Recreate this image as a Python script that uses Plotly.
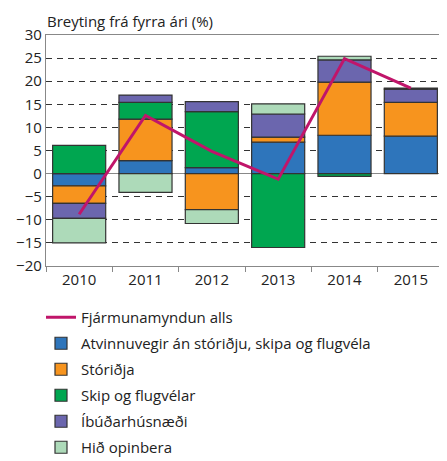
import plotly.graph_objects as go

years = ["2010", "2011", "2012", "2013", "2014", "2015"]
total = [-8.8, 12.6, 4.8, -1.2, 24.9, 18.5]
atvinnuvegir = [-2.65, 2.8, 1.3, 6.8, 8.3, 8.1]
storidja = [-3.8, 9.0, -7.8, 1.1, 11.5, 7.3]
skip = [6.1, 3.6, 12.1, -16.0, -0.6, 0.0]
ibudar = [-3.25, 1.6, 2.2, 5.0, 4.8, 2.9]
opinbera = [-5.3, -4.06, -3.0, 2.2, 0.8, 0.2]

names = ["Atvinnuvegir án stóriðju, skipa og flugvéla", "Stóriðja",
         "Skip og flugvélar", "Íbúðarhúsnæði", "Hið opinbera"]
series = [atvinnuvegir, storidja, skip, ibudar, opinbera]
colors = ["#2E75BB", "#F7941E", "#00A650", "#6B66AE", "#ADDAB9"]

FONT = "Open Sans"
W, H = 439, 453          # page body adds an 8px offset
ML, MR, MT, MB = 38, 3, 27, 195
PH = H - MT - MB
PW = W - ML - MR

fig = go.Figure()
fig.add_trace(go.Scatter(x=years, y=total, mode="lines", name="Fjármunamyndun alls",
                         line=dict(color="#C0156A", width=3), legendgroup="t"))
for n, s, c in zip(names, series, colors):
    fig.add_trace(go.Bar(x=years, y=s, name=n,
                         marker=dict(color=c, line=dict(color="#333333", width=1.2)),
                         legendgroup=n))

fig.update_layout(
    width=W, height=H,
    barmode="relative", bargap=0.2,
    plot_bgcolor="white", paper_bgcolor="white",
    margin=dict(l=ML, r=MR, t=MT, b=MB, autoexpand=False),
    font=dict(family=FONT, size=15, color="#222222"),
    showlegend=True,
    legend=dict(x=-5 / PW, xanchor="left", y=-35 / PH, yanchor="top", traceorder="grouped",
                tracegroupgap=3.5, font=dict(size=15), bgcolor="rgba(0,0,0,0)"),
    annotations=[dict(text="Breyting frá fyrra ári (%)", x=-1 / PW, xref="paper", xanchor="left",
                      y=1 + (MT - 13) / PH, yref="paper", yanchor="middle",
                      showarrow=False, font=dict(size=15))],
)

fig.update_xaxes(showline=True, linecolor="#888888", linewidth=1.3, mirror=True,
                 ticks="outside", tickson="boundaries", ticklen=5, tickcolor="#888888",
                 showgrid=False, tickfont=dict(size=15))
fig.update_yaxes(range=[-20, 30], dtick=5, showline=True, linecolor="#888888", linewidth=1.3,
                 mirror=True, showgrid=True, gridcolor="#333333", gridwidth=1, griddash="6px,5px",
                 zeroline=True, zerolinecolor="#888888", zerolinewidth=1.3, ticks="",
                 tickfont=dict(size=15))

fig.write_html("out.html")
